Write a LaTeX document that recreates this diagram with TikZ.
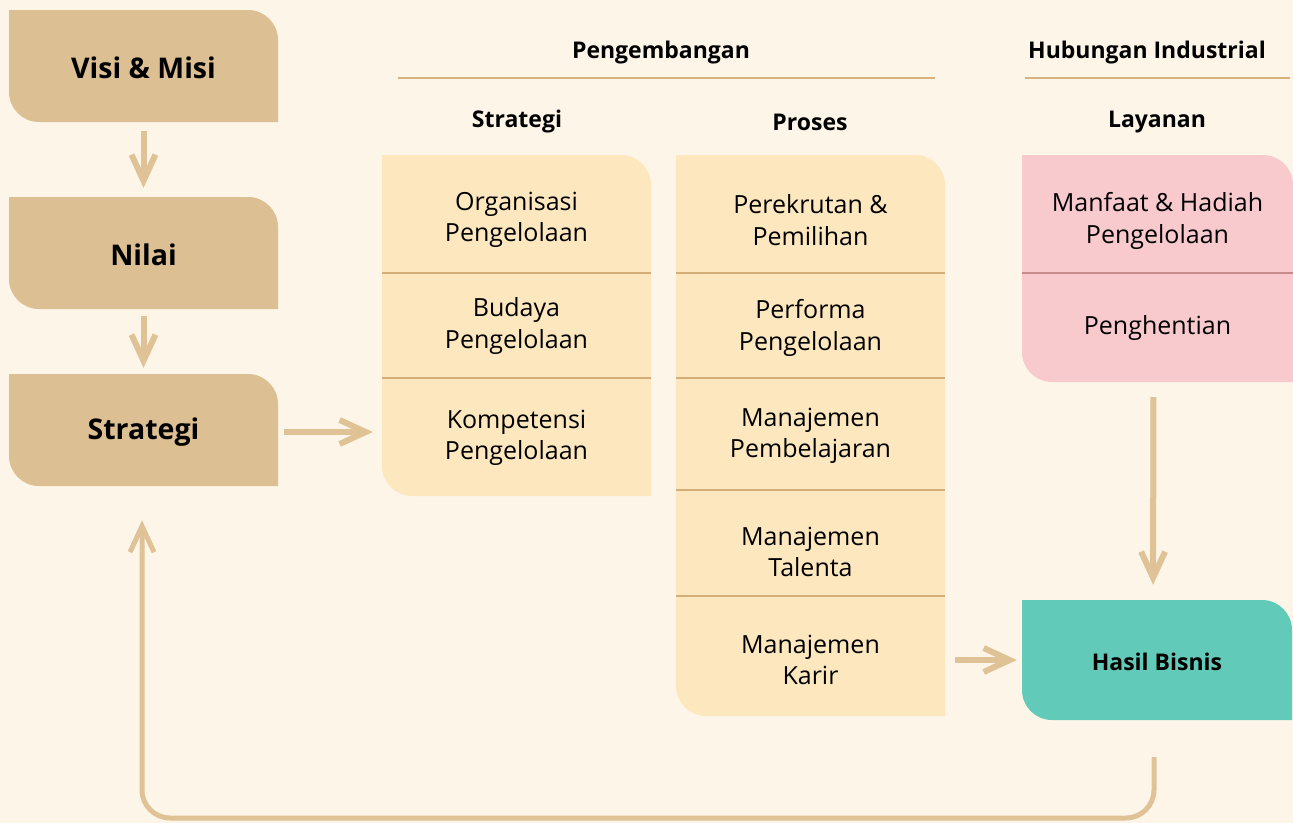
\documentclass[tikz,border=0pt]{standalone}
\usepackage{fontspec}
\setmainfont{Open Sans}
\usetikzlibrary{arrows.meta}
\definecolor{bgc}{HTML}{FEF5E9}
\definecolor{brownc}{HTML}{DCBF93}
\definecolor{yelc}{HTML}{FDE7BE}
\definecolor{pinkc}{HTML}{F8CACE}
\definecolor{tealc}{HTML}{61CAB9}
\definecolor{arrc}{HTML}{DFC295}
\definecolor{divc}{HTML}{D4AE78}
\definecolor{pdivc}{HTML}{C98A8C}
\definecolor{hlinec}{HTML}{D7B27D}
\newcommand\leafshape[5]{%
  \fill[#5] (#1,#2) -- ({#3-30},#2) .. controls ({#3-13.4},#2) and (#3,{#2+13.4}) .. (#3,{#2+30})
    -- (#3,#4) -- ({#1+30},#4) .. controls ({#1+13.4},#4) and (#1,{#4-13.4}) .. (#1,{#4-30}) -- cycle;}
\begin{document}
\begin{tikzpicture}[x=1pt,y=-1pt,
  box/.style={inner sep=0pt, align=center, text=black},
  title/.style={box, font=\fontsize{28.5}{32}\selectfont\bfseries},
  body/.style={box, font=\fontsize{25}{31.5}\selectfont},
  head/.style={box, font=\fontsize{23}{26}\selectfont\bfseries},
  arr/.style={draw=arrc, line width=6pt, -{Straight Barb[length=26pt,width=24pt]}},
  divline/.style={draw=divc, line width=2pt},
  pdivline/.style={draw=pdivc, line width=2pt},
  hline/.style={draw=hlinec, line width=2pt}]
\useasboundingbox (0,0) rectangle (1293,823);
\fill[bgc] (0,0) rectangle (1293,823);
% shapes
\leafshape{9}{10}{278}{122}{brownc}
\leafshape{9}{197}{278}{309}{brownc}
\leafshape{9}{374}{278}{486}{brownc}
\leafshape{382}{155}{651}{496}{yelc}
\leafshape{676}{155}{945}{716}{yelc}
\leafshape{1022}{155}{1293}{382}{pinkc}
\leafshape{1022}{600}{1292}{720}{tealc}
% dividers
\draw[divline] (382,273) -- (651,273);
\draw[divline] (382,378) -- (651,378);
\draw[divline] (676,273) -- (945,273);
\draw[divline] (676,378) -- (945,378);
\draw[divline] (676,490) -- (945,490);
\draw[divline] (676,596) -- (945,596);
\draw[pdivline] (1022,273) -- (1293,273);
% frame nodes
\node[box, minimum width=269pt, minimum height=112pt] (visi) at (143.5,66) {};
\node[box, minimum width=269pt, minimum height=112pt] (nilai) at (143.5,253) {};
\node[box, minimum width=269pt, minimum height=112pt] (strat) at (143.5,430) {};
\node[title] (visiT) at (143.5,68) {Visi \& Misi};
\node[title] (nilaiT) at (143.5,255) {Nilai};
\node[title] (stratT) at (143.5,432) {Strategi};
\node[box, minimum width=269pt, minimum height=341pt] (colS) at (516.5,325.5) {};
\node[box, minimum width=269pt, minimum height=561pt] (colP) at (810.5,435.5) {};
\node[box, minimum width=271pt, minimum height=227pt] (lay) at (1157.5,268.5) {};
\node[box, minimum width=270pt, minimum height=120pt] (hasil) at (1157,660) {};
\node[head] (hasilT) at (1157,662) {Hasil Bisnis};
% headers
\node[head] (hpeng) at (661,53) {Pengembangan};
\node[head] (hhub) at (1147,53) {Hubungan Industrial};
\draw[hline] (398,78) -- (935,78);
\draw[hline] (1025,78) -- (1290,78);
\node[head] (hstr) at (517,122) {Strategi};
\node[head] (hpro) at (810,122) {Proses};
\node[head] (hlay) at (1157,122) {Layanan};
% section texts
\node[body] (s1) at (516.5,220) {Organisasi\\Pengelolaan};
\node[body] (s2) at (516.5,326) {Budaya\\Pengelolaan};
\node[body] (s3) at (516.5,438) {Kompetensi\\Pengelolaan};
\node[body] (p1) at (810.5,220) {Perekrutan \&\\Pemilihan};
\node[body] (p2) at (810.5,328) {Performa\\Pengelolaan};
\node[body] (p3) at (810.5,436) {Manajemen\\Pembelajaran};
\node[body] (p4) at (810.5,552) {Manajemen\\Talenta};
\node[body] (p5) at (810.5,660) {Manajemen\\Karir};
\node[body] (l1) at (1157.5,221) {Manfaat \& Hadiah\\Pengelolaan};
\node[body] (l2) at (1157.5,328) {Penghentian};
% connectors
\draw[arr, shorten <=9pt, shorten >=9pt] (visi.south) -- (nilai.north);
\draw[arr, shorten <=7pt, shorten >=6pt] (nilai.south) -- (strat.north);
\draw[arr, shorten <=6pt, shorten >=9pt] (stratT.center -| strat.east) -- (stratT.center -| colS.west);
\draw[arr, shorten <=15pt, shorten >=15pt] ([xshift=-4pt]lay.south) -- ([xshift=-4pt]hasil.north);
\draw[arr, shorten <=10pt, shorten >=5pt] (hasil.center -| colP.east) -- (hasil.center -| hasil.west);
\coordinate (fb) at (0,818);
\draw[arr, line width=5pt, rounded corners=28pt, shorten <=37pt, shorten >=34pt]
  ([xshift=-3pt]hasil.south) -- ([xshift=-3pt]hasil.south |- fb) -- ([xshift=-1.5pt]strat.south |- fb) -- ([xshift=-1.5pt]strat.south);
\end{tikzpicture}
\end{document}
